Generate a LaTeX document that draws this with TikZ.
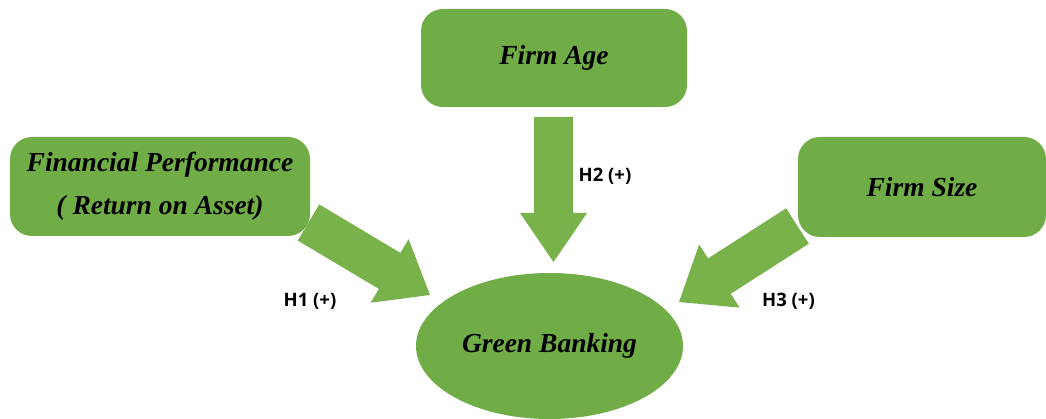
\documentclass[tikz,border=0pt]{standalone}
\usepackage{fontspec}
\newfontfamily\boxfont{Liberation Serif}
\newfontfamily\labelfont{Open Sans}
\usetikzlibrary{calc,shapes.geometric}

\definecolor{boxgreen}{HTML}{70AD47}
\definecolor{arrowgreen}{HTML}{79B24A}

% block arrow: #1 start, #2 tip, #3 shaft width, #4 head width, #5 head length
\newcommand\blockarrow[5]{%
  \coordinate (hb) at ($(#2)!#5!(#1)$);
  \fill[arrowgreen]
    ($(#1)!#3/2!90:(#2)$) -- ($(hb)!#3/2!90:(#2)$) -- ($(hb)!#4/2!90:(#2)$)
    -- (#2)
    -- ($(hb)!#4/2!-90:(#2)$) -- ($(hb)!#3/2!-90:(#2)$) -- ($(#1)!#3/2!-90:(#2)$)
    -- cycle;
}

\tikzset{
  varbox/.style={fill=boxgreen, rounded corners=22pt, align=center,
    font=\boxfont\fontsize{27.5}{43}\selectfont\bfseries\itshape, text=black, inner sep=0pt},
  outcome/.style={ellipse, fill=boxgreen, inner sep=0pt,
    font=\boxfont\fontsize{27.5}{33}\selectfont\bfseries\itshape, text=black},
  hyp/.style={font=\labelfont\fontsize{18.5}{22}\selectfont\bfseries, text=black, inner sep=0pt},
}

\begin{document}
\begin{tikzpicture}[x=1pt,y=-1pt]
\useasboundingbox (0,0) rectangle (1046,419);

% variables
\node[varbox, minimum width=266pt, minimum height=98pt] (age) at (554,58) {Firm Age};
\node[varbox, minimum width=300pt, minimum height=99pt] (fin) at (160,186.5)
  {Financial Performance\\( Return on Asset)};
\node[varbox, minimum width=248pt, minimum height=100pt] (size) at (922,187) {Firm Size};
\node[outcome, minimum width=267pt, minimum height=146pt] (gb) at (549.5,346) {Green Banking};

% arrow end points
\coordinate (s1) at (308.5,222.5);
\coordinate (t1) at (430,295);
\coordinate (s2) at (553.5,117);
\coordinate (t2) at (553.5,262);
\coordinate (s3) at (797.5,226);
\coordinate (t3) at (679,302);

\blockarrow{s1}{t1}{42pt}{74pt}{47pt}
\blockarrow{s2}{t2}{39pt}{67pt}{49pt}
\blockarrow{s3}{t3}{42pt}{75pt}{48pt}

% hypothesis labels
\node[hyp] (h1) at (310,301) {H1 (+)};
\node[hyp] (h2) at (605,176) {H2 (+)};
\node[hyp] (h3) at (788.5,301) {H3 (+)};
\end{tikzpicture}
\end{document}
